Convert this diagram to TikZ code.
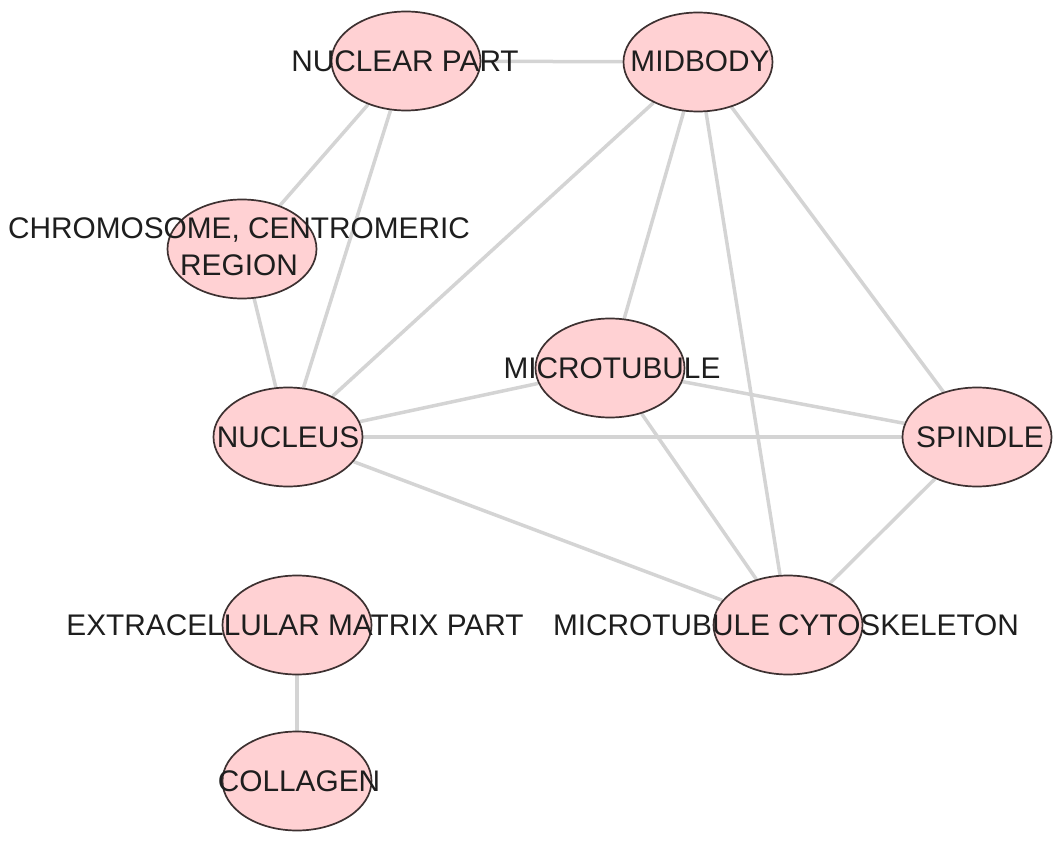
\documentclass[tikz,border=0pt]{standalone}
\usepackage{fontspec}
\setmainfont{Liberation Sans}
\usepackage{tikz}
\usetikzlibrary{shapes.geometric}
\usepackage{xcolor}
\definecolor{termfill}{HTML}{FFD1D3}
\definecolor{termline}{HTML}{3D3131}
\definecolor{linkgray}{HTML}{D4D4D4}
\definecolor{termtextcol}{HTML}{1E1E1E}
\pgfdeclarelayer{background}
\pgfsetlayers{background,main}
\tikzset{
  term/.style={ellipse, draw=termline, fill=termfill, line width=1.7pt,
    minimum width=149pt, minimum height=99pt, inner sep=0pt},
  termtext/.style={text=termtextcol, align=center, inner sep=0pt,
    font=\fontsize{29.8}{37}\selectfont},
  link/.style={draw=linkgray, line width=3.5pt}
}

\begin{document}
\begin{tikzpicture}[x=1pt,y=-1pt]
\useasboundingbox (0,0) rectangle (1063,842);
% terms
\node[term] (np) at (406,61) {};
\node[term] (mid) at (698,62) {};
\node[term] (chr) at (242,249) {};
\node[term] (mt) at (610,368) {};
\node[term] (nuc) at (288,437) {};
\node[term] (spi) at (977,437) {};
\node[term] (mtc) at (788,625) {};
\node[term] (ecm) at (297,625) {};
\node[term] (col) at (297,781) {};
% links
\begin{pgfonlayer}{background}
\draw[link] (np) -- (mid);
\draw[link] (np) -- (chr);
\draw[link] (np) -- (nuc);
\draw[link] (chr) -- (nuc);
\draw[link] (mid) -- (nuc);
\draw[link] (mid) -- (mt);
\draw[link] (mid) -- (mtc);
\draw[link] (mid) -- (spi);
\draw[link] (nuc) -- (mt);
\draw[link] (nuc) -- (spi);
\draw[link] (nuc) -- (mtc);
\draw[link] (mt) -- (spi);
\draw[link] (mt) -- (mtc);
\draw[link] (spi) -- (mtc);
\draw[link] (ecm) -- (col);
\end{pgfonlayer}
% labels
\node[termtext] (np-t) at (405,61) {NUCLEAR PART};
\node[termtext] (mid-t) at (700,61) {MIDBODY};
\node[termtext] (chr-t) at (239,247) {CHROMOSOME, CENTROMERIC\\REGION};
\node[termtext] (mt-t) at (612,368) {MICROTUBULE};
\node[termtext] (nuc-t) at (288,437) {NUCLEUS};
\node[termtext] (spi-t) at (980,437) {SPINDLE};
\node[termtext] (mtc-t) at (786,625) {MICROTUBULE CYTOSKELETON};
\node[termtext] (ecm-t) at (295,625) {EXTRACELLULAR MATRIX PART};
\node[termtext] (col-t) at (299,781) {COLLAGEN};
\end{tikzpicture}
\end{document}
